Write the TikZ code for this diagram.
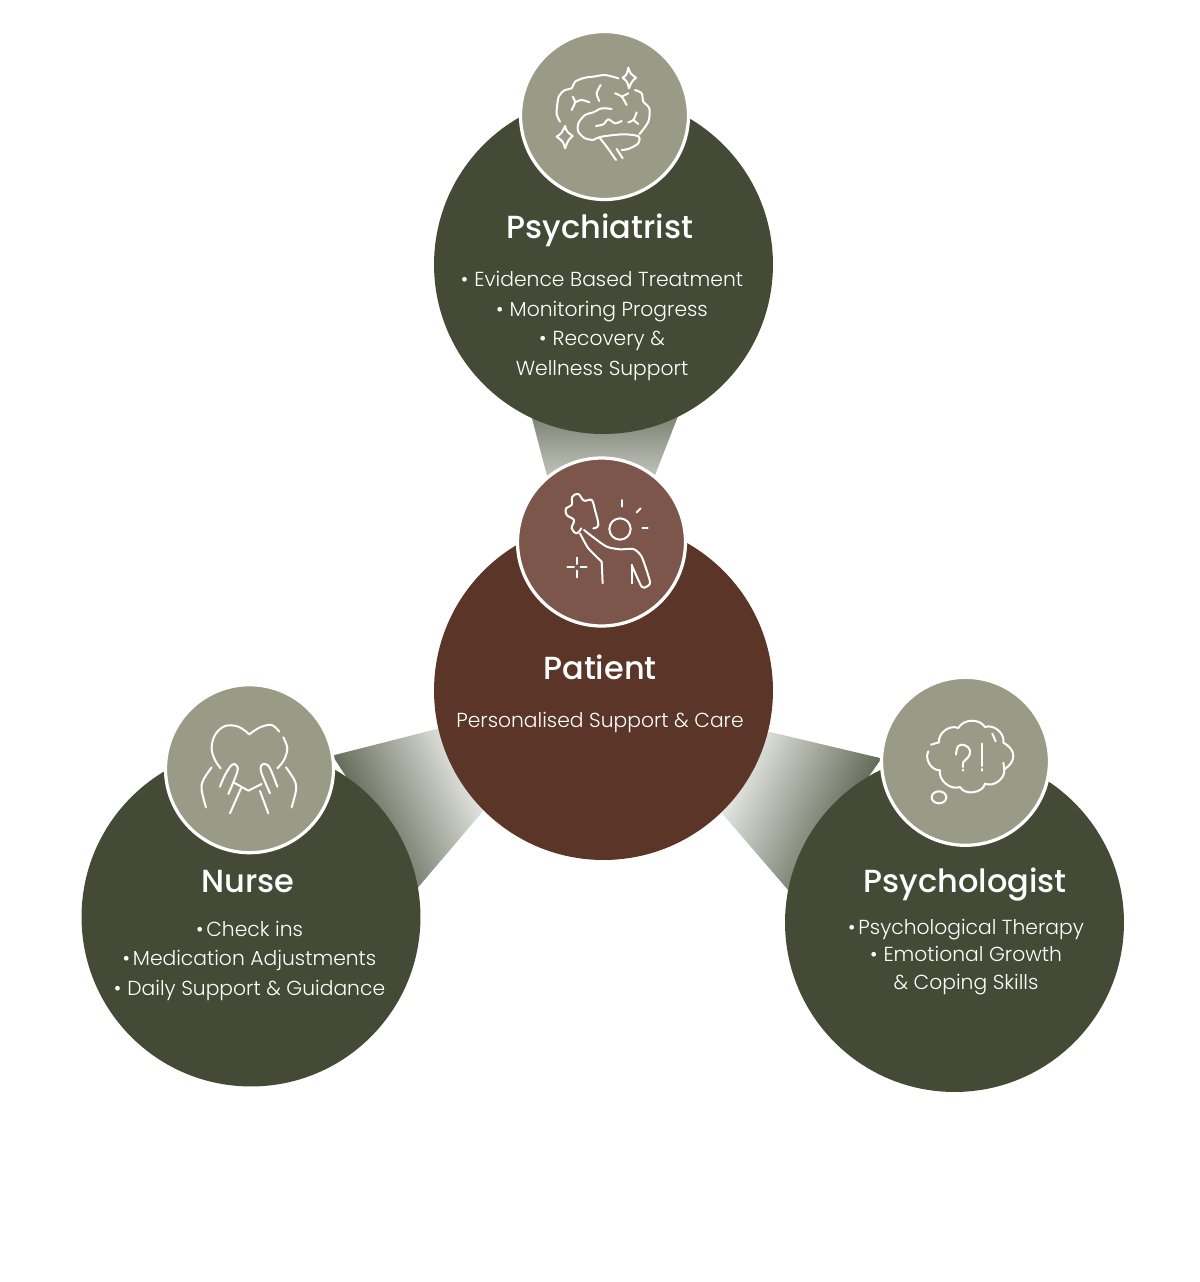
\documentclass[tikz,border=0pt]{standalone}
\usepackage{fontspec}
\setmainfont{Poppins}[UprightFont=* Light,BoldFont=* Medium]
\usetikzlibrary{backgrounds}
\definecolor{olivedark}{HTML}{454A36}
\definecolor{sage}{HTML}{999B87}
\definecolor{rust}{HTML}{5A3528}
\definecolor{rustlight}{HTML}{7C564A}
\definecolor{fadelight}{HTML}{ECEEEA}
\newcommand{\widebullet}{•\hspace{0.3em}}
\newcommand{\tightbullet}{•\hspace{0.14em}}

\begin{document}
\begin{tikzpicture}[x=0.02cm,y=-0.02cm,
    bigdisc/.style={circle,inner sep=0pt,outer sep=0pt,minimum size=6.78cm},
    icondisc/.style={circle,inner sep=0pt,outer sep=0pt,minimum size=3.36cm,draw=white,line width=0.065cm},
    titletext/.style={text=white,anchor=base,font=\fontsize{18.2}{22}\selectfont\bfseries},
    bodytext/.style={text=white,align=center,font=\fontsize{11.55}{16.8}\selectfont},
    iconline/.style={draw=white,line width=0.04cm,line cap=round,line join=round}]
  \useasboundingbox (0,0) rectangle (1200,1282);

  % big discs and the small icon discs on top of them
  \node[bigdisc,fill=olivedark] (psychiatrist) at (603.5,264.5) {};
  \node[bigdisc,fill=rust] (patient) at (603.5,690.5) {};
  \node[bigdisc,fill=olivedark] (nurse) at (251,917) {};
  \node[bigdisc,fill=olivedark] (psychologist) at (954.5,922.5) {};
  \node[icondisc,fill=sage] (psychiatristicon) at (604.5,115.5) {};
  \node[icondisc,fill=rustlight] (patienticon) at (601.5,542) {};
  \node[icondisc,fill=sage] (nurseicon) at (249.5,768.7) {};
  \node[icondisc,fill=sage] (psychologisticon) at (965.5,761.3) {};

  \begin{scope}[on background layer]
    \shade[top color=olivedark!65!fadelight,bottom color=olivedark!25!fadelight]
      (psychiatrist.245) -- (psychiatrist.296) -- (patienticon.51) -- (patienticon.130) -- cycle;
    \shade[left color=olivedark,right color=fadelight,shading angle=115]
      (nurseicon.9) -- (patient.193) -- (patient.225) -- (nurse.10) -- cycle;
    \shade[left color=fadelight,right color=olivedark,shading angle=65]
      (psychologisticon.178) -- (patient.346) -- (patient.314) -- (psychologist.169) -- cycle;
  \end{scope}

  \node[titletext] (psychiatristtitle) at (600,238) {Psychiatrist};
  \node[bodytext] (psychiatristbody) at (602,326)
    {\widebullet Evidence Based Treatment\\\widebullet Monitoring Progress\\\widebullet Recovery \&\\Wellness Support};
  \node[titletext] (patienttitle) at (600,679) {Patient};
  \node[bodytext] (patientbody) at (600,722) {Personalised Support \& Care};
  \node[titletext] (nursetitle) at (248,892) {Nurse};
  \node[bodytext] (nursebody) at (249.5,960.5)
    {\tightbullet Check ins\\\tightbullet Medication Adjustments\\\widebullet Daily Support \& Guidance};
  \node[titletext] (psychologisttitle) at (965,892) {Psychologist};
  \node[bodytext,font=\fontsize{11.55}{15.6}\selectfont] (psychologistbody) at (966,957)
    {\tightbullet Psychological Therapy\\\widebullet Emotional Growth\\\& Coping Skills};

  % brain
  \begin{scope}[shift={(510,25)},scale=0.3333,iconline]
    \draw plot[smooth] coordinates {(150,290) (140,265) (146,215) (165,195) (185,190) (195,170) (225,158) (250,155) (285,150) (325,160)};
    \draw plot[smooth] coordinates {(375,195) (395,205) (400,230) (418,250) (415,290) (388,328)};
    \draw plot[smooth] coordinates {(305,252) (275,250) (250,262) (225,270) (205,295) (205,320) (225,340) (250,345)};
    \draw plot[smooth] coordinates {(250,345) (275,335) (340,328) (385,334) (385,355) (355,372) (335,375)};
    \draw plot[smooth] coordinates {(258,303) (280,298) (295,283) (315,295) (335,288)};
    \draw plot[smooth] coordinates {(188,215) (195,232) (185,255)};
    \draw plot[smooth] coordinates {(195,232) (215,225) (238,232)};
    \draw plot[smooth] coordinates {(272,180) (260,205) (268,228)};
    \draw plot[smooth] coordinates {(315,205) (335,215) (350,240)};
    \draw (335,215) -- (355,205);
    \draw plot[smooth] coordinates {(380,262) (370,285) (355,292)};
    \draw (370,285) -- (385,297);
    \draw plot[smooth] coordinates {(270,340) (290,365) (318,405)};
    \draw (320,372) -- (338,400);
    \draw (355,128) .. controls (360,145) .. (378,158) .. controls (365,170) .. (357,190) .. controls (352,170) .. (338,158) .. controls (350,150) .. cycle;
    \draw (165,303) .. controls (170,320) .. (188,333) .. controls (175,345) .. (165,370) .. controls (160,350) .. (140,335) .. controls (155,325) .. cycle;
  \end{scope}

  % raised arm and cloud
  \begin{scope}[shift={(510,450)},scale=0.3333,iconline]
    \draw plot[smooth,tension=0.6] coordinates {(250,235) (265,225) (255,180) (245,150) (222,152) (205,132) (187,140) (185,165) (168,175) (170,195) (192,210) (185,235) (200,250) (214,235)};
    \draw plot[smooth,tension=0.4] coordinates {(210,250) (235,295) (275,335)};
    \draw (275,335) -- (278,400);
    \draw plot[smooth,tension=0.4] coordinates {(222,240) (250,262) (290,290) (330,298) (370,297) (395,320) (420,395) (410,410) (395,410) (365,345)};
    \draw (365,345) -- (365,400);
    \draw (330,237) circle (32);
    \draw (337,150) -- (337,170);
    \draw (380,187) -- (392,175);
    \draw (397,233) -- (413,233);
    \draw (172,352) -- (192,352);
    \draw (212,352) -- (230,352);
    \draw (201,323) -- (201,342);
    \draw (201,362) -- (201,382);
  \end{scope}

  % hands holding a heart
  \begin{scope}[shift={(160,680)},scale=0.3333,iconline]
    \draw plot[smooth,tension=0.6] coordinates {(182,265) (165,240) (155,205) (165,165) (195,138) (235,140) (268,163)};
    \draw plot[smooth,tension=0.6] coordinates {(268,163) (300,142) (335,135) (358,155)};
    \draw plot[smooth,tension=0.6] coordinates {(370,172) (382,205) (372,240) (352,265)};
    \draw (222,308) -- (265,332) -- (305,312);
    \draw plot[smooth,tension=0.6] coordinates {(155,262) (130,300) (125,330) (138,382)};
    \draw plot[smooth,tension=0.6] coordinates {(180,320) (195,285) (215,255) (228,255) (232,275) (205,342)};
    \draw (243,325) -- (210,400);
    \draw (300,333) -- (325,400);
    \draw plot[smooth,tension=0.6] coordinates {(330,340) (305,280) (303,258) (315,252) (330,265) (352,320)};
    \draw plot[smooth,tension=0.6] coordinates {(378,262) (403,300) (408,330) (395,382)};
  \end{scope}

  % thought bubble
  \begin{scope}[shift={(875,672)},scale=0.3333,iconline]
    \draw (168,218) -- (192,211) to[bend left=60] (250,168) to[bend left=60] (330,165)
      to[bend left=60] (385,212) to[bend left=60,looseness=1.4] (388,292) to[bend left=60] (330,335)
      to[bend left=70] (255,345) to[bend left=60] (195,295) to[bend left=60] (160,238);
    \draw plot[smooth] coordinates {(352,185) (362,208)};
    \draw (385,272) -- (388,292);
    \draw plot[smooth,tension=0.7] coordinates {(243,248) (250,222) (270,220) (285,235) (280,255) (265,270) (264,285)};
    \draw (264,293) -- (264,296);
    \draw (321,215) -- (321,282);
    \draw (321,291) -- (321,296);
    \draw (192,376) ellipse [x radius=22,y radius=18];
  \end{scope}
\end{tikzpicture}
\end{document}
